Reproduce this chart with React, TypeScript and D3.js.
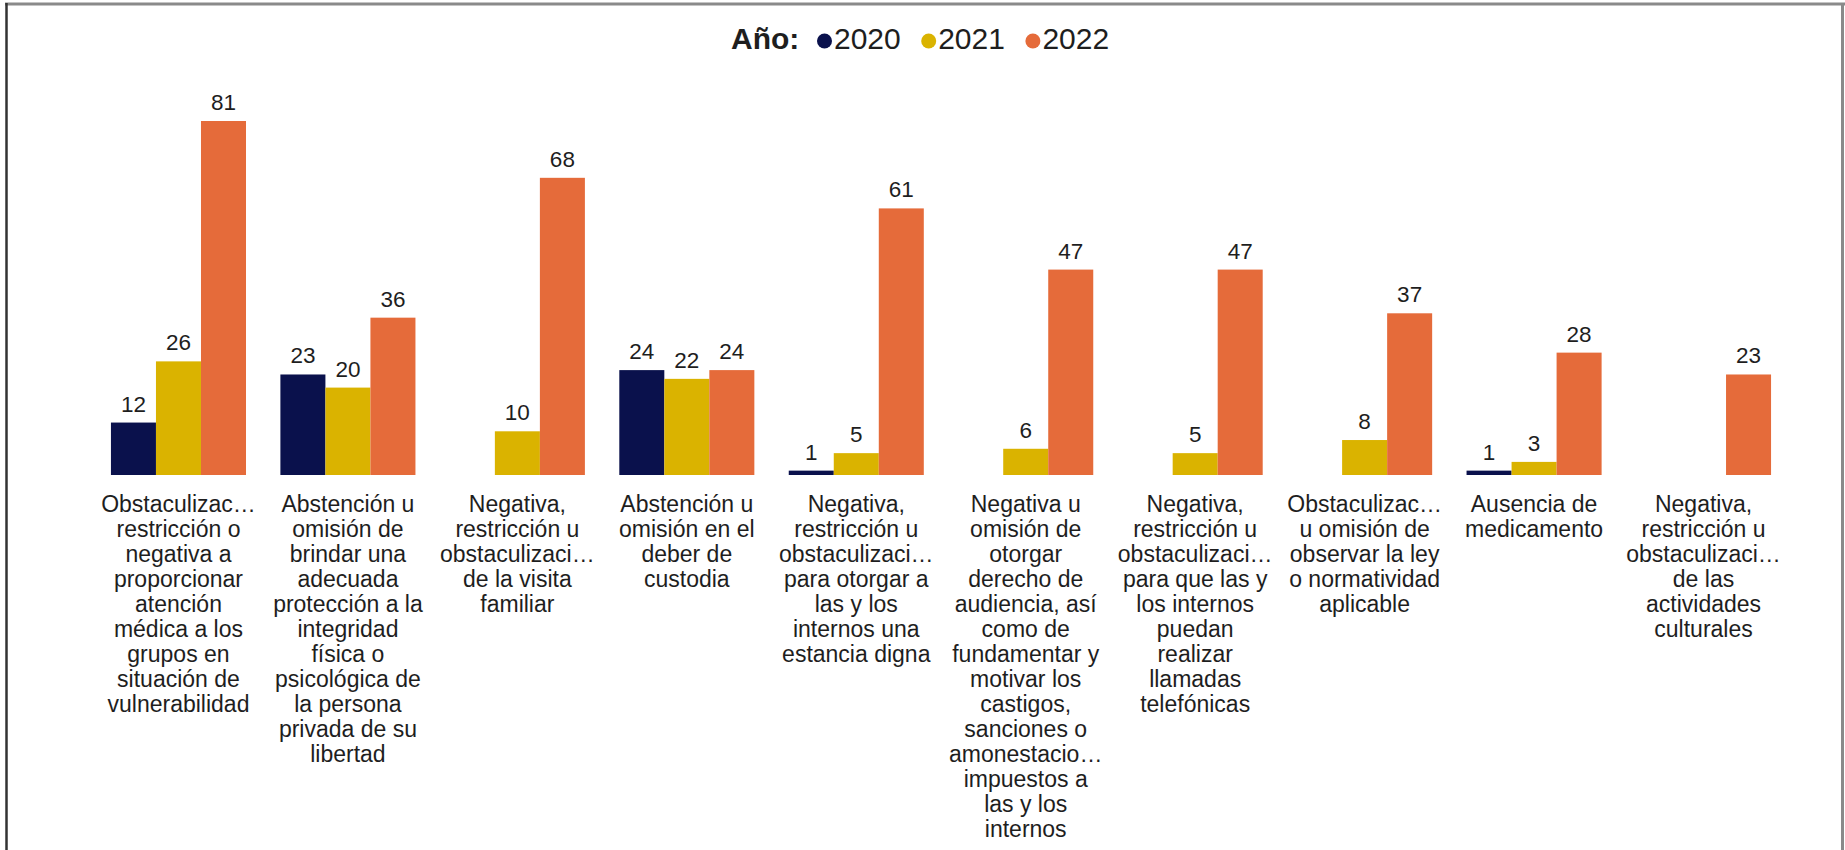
import React from "react";
import * as d3 from "d3";

const WIDTH = 1845;
const HEIGHT = 850;

const categories: string[][] = [
  ["Obstaculizac…", "restricción o", "negativa a", "proporcionar", "atención", "médica a los", "grupos en", "situación de", "vulnerabilidad"],
  ["Abstención u", "omisión de", "brindar una", "adecuada", "protección a la", "integridad", "física o", "psicológica de", "la persona", "privada de su", "libertad"],
  ["Negativa,", "restricción u", "obstaculizaci…", "de la visita", "familiar"],
  ["Abstención u", "omisión en el", "deber de", "custodia"],
  ["Negativa,", "restricción u", "obstaculizaci…", "para otorgar a", "las y los", "internos una", "estancia digna"],
  ["Negativa u", "omisión de", "otorgar", "derecho de", "audiencia, así", "como de", "fundamentar y", "motivar los", "castigos,", "sanciones o", "amonestacio…", "impuestos a", "las y los", "internos"],
  ["Negativa,", "restricción u", "obstaculizaci…", "para que las y", "los internos", "puedan", "realizar", "llamadas", "telefónicas"],
  ["Obstaculizac…", "u omisión de", "observar la ley", "o normatividad", "aplicable"],
  ["Ausencia de", "medicamento"],
  ["Negativa,", "restricción u", "obstaculizaci…", "de las", "actividades", "culturales"],
];

const seriesNames = ["2020", "2021", "2022"];
const values2020: (number | null)[] = [12, 23, null, 24, 1, null, null, null, 1, null];
const values2021: (number | null)[] = [26, 20, 10, 22, 5, 6, 5, 8, 3, null];
const values2022: (number | null)[] = [81, 36, 68, 24, 61, 47, 47, 37, 28, 23];
const seriesValues = [values2020, values2021, values2022];
const colors = ["#0a114c", "#dab300", "#e56b3a"];

const FONT = "'Liberation Sans', Arial, Helvetica, sans-serif";
const TEXT = "#1e1e1e";

export default function App() {
  const idx = categories.map((_, i) => String(i));
  const x0 = d3.scaleBand<string>().domain(idx).range([94, 1788]).paddingInner(0.203).paddingOuter(0.1);
  const x1 = d3.scaleBand<string>().domain(seriesNames).range([0, x0.bandwidth()]).padding(0);
  const y = d3.scaleLinear().domain([0, 81]).range([475, 121]);

  const legendX = 731;
  const legendItemX = (i: number) => 816.5 + i * 104.2;

  return (
    <>
      <style>{`body{margin:0;background:#fff;}`}</style>
      <svg width={WIDTH} height={HEIGHT} style={{ display: "block", fontFamily: FONT }}>
        <rect x={0} y={0} width={WIDTH} height={HEIGHT} fill="#fff" />
        {/* frame */}
        <line x1={5} x2={1845} y1={4} y2={4} stroke="#8a8a8a" strokeWidth={3} />
        <line x1={6.5} x2={6.5} y1={3} y2={HEIGHT} stroke="#333" strokeWidth={2.5} />
        <line x1={1842.5} x2={1842.5} y1={3} y2={HEIGHT} stroke="#8a8a8a" strokeWidth={3} />

        {/* legend */}
        <text x={legendX} y={49} fontSize={30} fontWeight="bold" fill={TEXT}>Año:</text>
        {seriesNames.map((s, i) => (
          <g key={s}>
            <circle cx={legendItemX(i) + 8} cy={41} r={7.5} fill={colors[i]} />
            <text x={legendItemX(i) + 17.5} y={49} fontSize={30} fill={TEXT}>{s}</text>
          </g>
        ))}

        {/* bars */}
        {categories.map((_, ci) => (
          <g key={ci} transform={`translate(${x0(String(ci))},0)`}>
            {seriesNames.map((s, si) => {
              const v = seriesValues[si][ci];
              if (v == null) return null;
              const bx = x1(s)!;
              return (
                <g key={s}>
                  <rect x={bx} y={y(v)} width={x1.bandwidth()} height={y(0) - y(v)} fill={colors[si]} />
                  <text
                    x={bx + x1.bandwidth() / 2}
                    y={y(v) - 11}
                    fontSize={22.5}
                    textAnchor="middle"
                    fill={TEXT}
                  >
                    {v}
                  </text>
                </g>
              );
            })}
          </g>
        ))}

        {/* category labels */}
        {categories.map((lines, ci) => (
          <text
            key={ci}
            x={x0(String(ci))! + x0.bandwidth() / 2}
            y={511.5}
            fontSize={23}
            textAnchor="middle"
            fill={TEXT}
          >
            {lines.map((l, li) => (
              <tspan key={li} x={x0(String(ci))! + x0.bandwidth() / 2} dy={li === 0 ? 0 : 25.05}>
                {l}
              </tspan>
            ))}
          </text>
        ))}
      </svg>
    </>
  );
}
